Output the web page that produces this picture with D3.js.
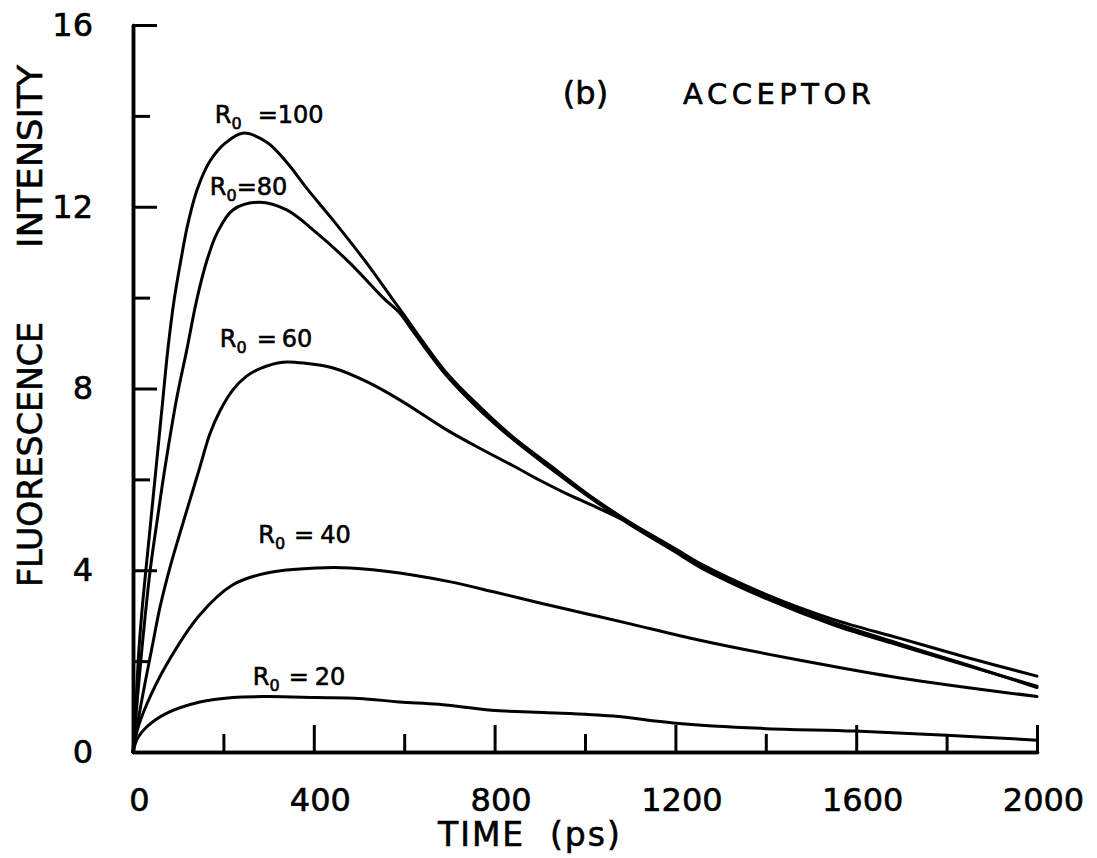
<!DOCTYPE html>
<html>
<head>
<meta charset="utf-8">
<script src="https://cdn.jsdelivr.net/npm/d3@7"></script>
<style>
  html, body { margin: 0; padding: 0; background: #fff; }
  svg { display: block; }
  text { font-family: "DejaVu Sans", sans-serif; fill: #000; stroke: #000; stroke-width: 0.6; }
</style>
</head>
<body>
<script>
// ---------- data ----------
const t100 = [0, 7, 13, 22, 33, 44, 55, 66, 77, 91, 106, 122, 142, 170, 204, 243, 296, 340, 385, 443, 517, 590, 694, 768, 841, 916, 1018, 1100, 1200, 1254, 1400, 1549, 1697, 1845, 2000];
const i100 = [0, 1.14, 2.24, 3.35, 4.45, 5.55, 6.65, 7.75, 8.85, 9.95, 10.83, 11.65, 12.38, 13.0, 13.4, 13.62, 13.42, 12.98, 12.4, 11.7, 10.76, 9.75, 8.34, 7.59, 6.93, 6.36, 5.59, 5.05, 4.45, 4.1, 3.42, 2.85, 2.38, 1.92, 1.42];

const t80 = [0, 10, 20, 38, 55, 71, 97, 119, 141, 163, 186, 221, 281, 340, 407, 480, 553, 590, 620, 694, 768, 841, 916, 1018, 1100, 1200, 1254, 1400, 1549, 1697, 1845, 2000];
const i80 = [0, 1.2, 2.3, 4.0, 5.2, 6.27, 7.8, 8.85, 9.95, 10.8, 11.42, 11.93, 12.1, 11.93, 11.42, 10.76, 10.0, 9.66, 9.25, 8.28, 7.52, 6.88, 6.3, 5.55, 5.0, 4.4, 4.07, 3.38, 2.8, 2.34, 1.9, 1.45];

const t60 = [0, 15, 44, 60, 82, 104, 126, 148, 170, 192, 221, 250, 281, 332, 385, 443, 517, 590, 694, 768, 841, 900, 960, 1018, 1100, 1200, 1254, 1400, 1549, 1697, 1845, 2000];
const i60 = [0, 0.9, 2.4, 3.2, 4.07, 4.82, 5.55, 6.27, 7.0, 7.5, 7.97, 8.26, 8.44, 8.58, 8.55, 8.45, 8.15, 7.75, 7.09, 6.68, 6.3, 5.98, 5.68, 5.42, 5.03, 4.47, 4.15, 3.47, 2.92, 2.5, 2.08, 1.67];

const t40 = [0, 10, 30, 74, 148, 221, 296, 407, 480, 590, 700, 800, 900, 1000, 1100, 1254, 1476, 1697, 2000];
const i40 = [0, 0.5, 1.04, 1.92, 3.02, 3.68, 3.94, 4.05, 4.05, 3.94, 3.75, 3.52, 3.28, 3.05, 2.82, 2.46, 2.02, 1.63, 1.22];

const t20 = [0, 10, 30, 74, 148, 221, 296, 407, 500, 590, 676, 793, 909, 1062, 1195, 1388, 1597, 1800, 2000];
const i20 = [0, 0.3, 0.55, 0.85, 1.1, 1.2, 1.22, 1.2, 1.18, 1.1, 1.05, 0.92, 0.87, 0.79, 0.64, 0.52, 0.46, 0.37, 0.26];

const seriesNames = ["100", "80", "60", "40", "20"];
const seriesT = [t100, t80, t60, t40, t20];
const seriesI = [i100, i80, i60, i40, i20];
// label anchor (time, intensity) for each series label
const labelT = [181, 170, 192, 277, 265];
const labelI = [13.84, 12.26, 8.91, 4.6, 1.48];

const xMajorTicks = [0, 400, 800, 1200, 1600, 2000];
const xMinorTicks = [200, 600, 1000, 1400, 1800];
const yMajorTicks = [0, 4, 8, 12, 16];
const yMinorTicks = [2, 6, 10, 14];

// ---------- drawing ----------
const W = 1097, H = 858;
const svg = d3.select("body").append("svg").attr("width", W).attr("height", H);

const x = d3.scaleLinear().domain([0, 2000]).range([133, 1037]);
const y = d3.scaleLinear().domain([0, 16]).range([752, 25]);

// axes
const gx = svg.append("g").attr("transform", `translate(0,${y(0)})`)
  .call(d3.axisBottom(x).tickValues(xMajorTicks).tickSize(-27).tickSizeOuter(0).tickPadding(36).tickFormat(d3.format("d")));
const gx2 = svg.append("g").attr("transform", `translate(0,${y(0)})`)
  .call(d3.axisBottom(x).tickValues(xMinorTicks).tickSize(-18).tickSizeOuter(0).tickFormat(""));
const gy = svg.append("g").attr("transform", `translate(${x(0)},0)`)
  .call(d3.axisLeft(y).tickValues(yMajorTicks).tickSize(-24).tickSizeOuter(0).tickPadding(40).tickFormat(d3.format("d")));
const gy2 = svg.append("g").attr("transform", `translate(${x(0)},0)`)
  .call(d3.axisLeft(y).tickValues(yMinorTicks).tickSize(-17).tickSizeOuter(0).tickFormat(""));

[gx, gx2, gy, gy2].forEach(g => {
  g.selectAll("path.domain").attr("stroke", "#000").attr("stroke-width", 3.5).attr("stroke-linecap", "round");
  g.selectAll(".tick line").attr("stroke", "#000").attr("stroke-width", 3);
});
gx.selectAll(".tick text").attr("font-size", 32).attr("font-family", "DejaVu Sans").attr("dx", 6);
gy.selectAll(".tick text").attr("font-size", 32).attr("font-family", "DejaVu Sans");
gx.selectAll(".tick").filter(d => d === 0).select("line").remove();
gy.selectAll(".tick").filter(d => d === 0).select("line").remove();

// curves
const line = d3.line().x(d => x(d[0])).y(d => y(d[1])).curve(d3.curveCatmullRom.alpha(0.5));
seriesT.forEach((ts, k) => {
  const pts = ts.map((t, j) => [t, seriesI[k][j]]);
  svg.append("path").attr("d", line(pts))
    .attr("fill", "none").attr("stroke", "#000").attr("stroke-width", 3)
    .attr("stroke-linejoin", "round").attr("stroke-linecap", "round");
});

// curve labels  R0 = value (one text element per label)
const eqGap = [16, 0, 10, 9, 9];
const valGap = [0, 0, 5, 6, 6];
seriesNames.forEach((name, k) => {
  const t = svg.append("text").attr("x", x(labelT[k])).attr("y", y(labelI[k])).attr("font-size", 24);
  t.append("tspan").text("R");
  t.append("tspan").attr("font-size", 16).attr("dy", 6).text("0");
  t.append("tspan").attr("dy", -6).attr("dx", eqGap[k]).text("=");
  t.append("tspan").attr("dx", valGap[k]).text(name);
});

// panel title
svg.append("text").attr("x", x(951)).attr("y", y(14.26)).attr("font-size", 32).text("(b)");
svg.append("text").attr("x", x(1217)).attr("y", y(14.26)).attr("font-size", 29)
  .attr("letter-spacing", 4.5).text("ACCEPTOR");

// axis titles
svg.append("text").attr("transform", "translate(42,587) rotate(-90)")
  .attr("font-size", 33).attr("textLength", 265).attr("lengthAdjust", "spacingAndGlyphs").text("FLUORESCENCE");
svg.append("text").attr("transform", "translate(42,248) rotate(-90)")
  .attr("font-size", 33).attr("textLength", 183).attr("lengthAdjust", "spacingAndGlyphs").text("INTENSITY");

svg.append("text").attr("x", 438).attr("y", 846).attr("font-size", 33).attr("letter-spacing", 2).text("TIME");
svg.append("text").attr("x", 550).attr("y", 846).attr("font-size", 33).attr("letter-spacing", 2).text("(ps)");
</script>
</body>
</html>
